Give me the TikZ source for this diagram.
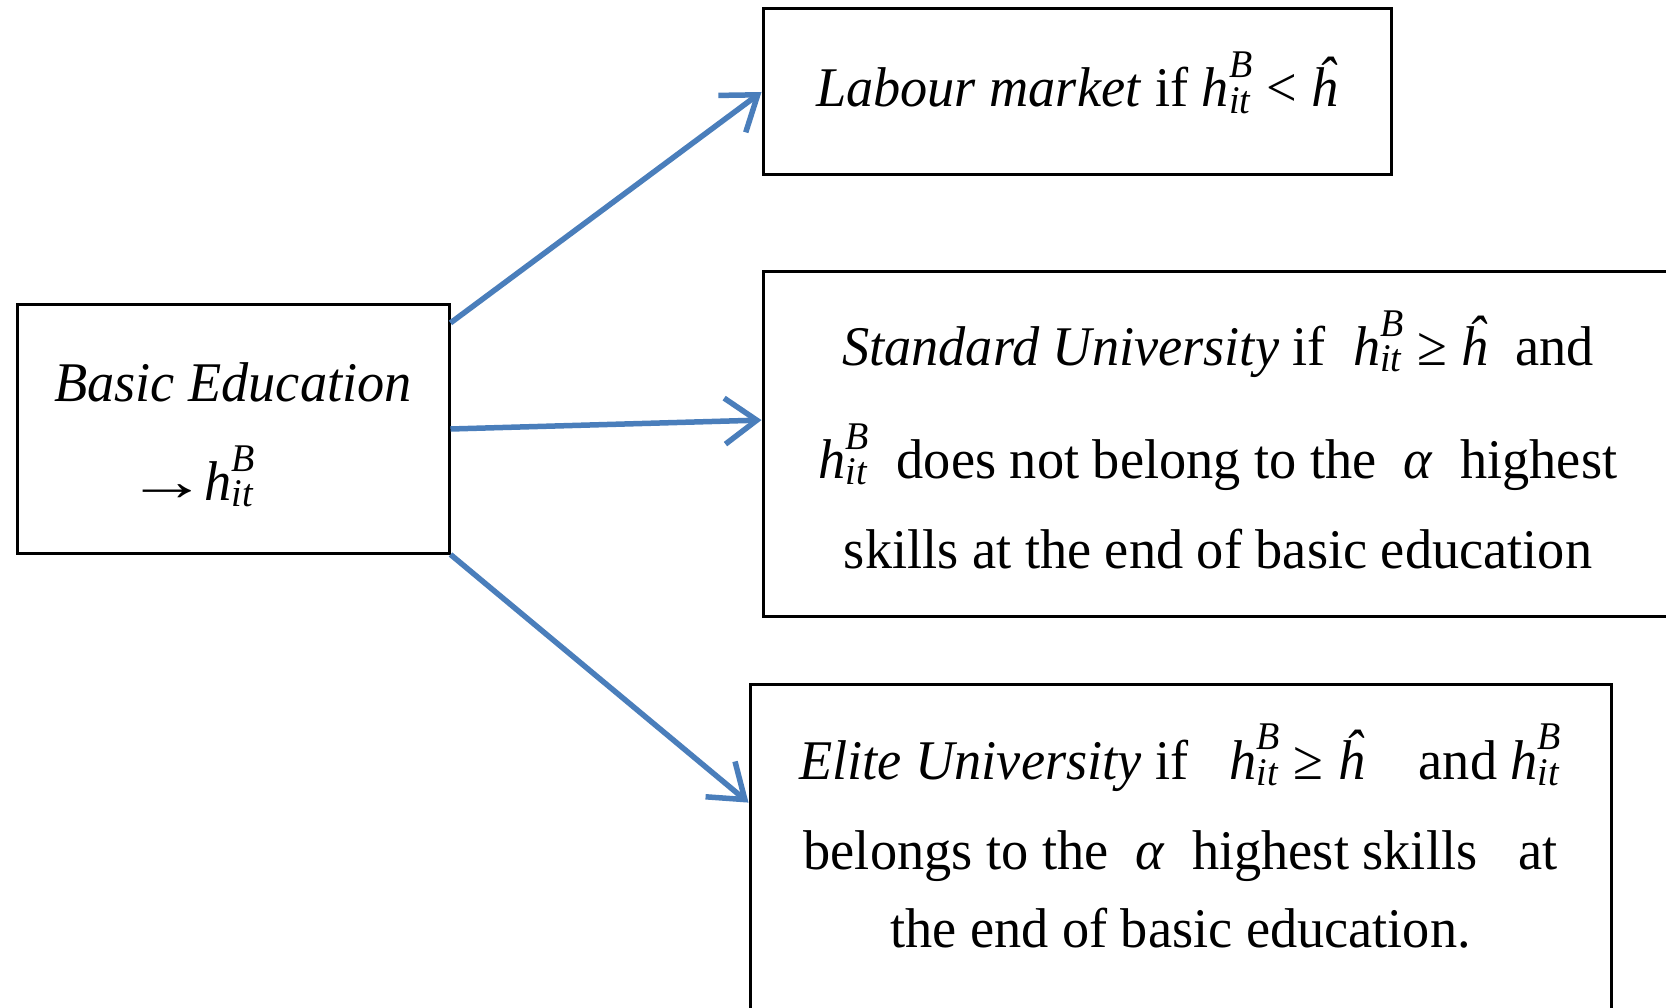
\documentclass[tikz,border=0pt]{standalone}
\usepackage{amsmath}
\usepackage{fontspec}
\setmainfont{Liberation Serif}[FakeStretch=0.97]
\usetikzlibrary{arrows.meta,calc}
\newcommand\hB{$\textit{h}^{\textit{B}}_{\textit{it}}$}
\newcommand\hh{\textit{ĥ}}
\newcommand\lines[2]{\raisebox{#1}[\height][\depth]{\begin{tabular}{@{}c@{}}#2\end{tabular}}}
\definecolor{arrowblue}{HTML}{4A7EBB}
\begin{document}
\begin{tikzpicture}[x=1pt,y=-1pt,
  box/.style={draw=black,line width=3pt,rectangle,inner sep=0pt,align=center,font=\fontsize{56}{90}\selectfont},
  flow/.style={draw=arrowblue,line width=5.5pt,-{Straight Barb[length=32pt,width=46pt]}}]
\useasboundingbox (0,0) rectangle (1666,1008);
\clip (0,0) rectangle (1666,1008);
\fill[white] (0,0) rectangle (1666,1008);
\node[box,minimum width=432pt,minimum height=248pt] (basic) at (233,429)
  {\lines{-4pt}{\textit{Basic Education}\\[9pt]\scalebox{1.5}[1]{→}\hspace{-4pt}\hB\hspace*{84pt}}};
\node[box,minimum width=628pt,minimum height=166pt] (labour) at (1077,92)
  {\lines{3pt}{\textit{Labour market} if \hB{} < \hh}};
\node[box,minimum width=910pt,minimum height=344pt] (std) at (1218,444)
  {\lines{-5pt}{\textit{Standard University} if~ \hB{} ≥ \hh~ and\\[23pt]
   \hB~ does not belong to the~ \textit{α}~ highest\\
   skills at the end of basic education}};
\node[box,minimum width=861pt,minimum height=328pt] (elite) at (1180.5,848)
  {\lines{3pt}{\textit{Elite University} if~~ \hB{} ≥ \hh~~~ and \hB\\
   belongs to the~ \textit{α}~ highest skills~~ at\\[-12pt]
   the end of basic education.}};
\draw[flow] (basic.26) -- (labour.west);
\draw[flow] (basic.east) -- (std.177);
\draw[flow] (basic.south east) -- (elite.174);
\end{tikzpicture}
\end{document}
